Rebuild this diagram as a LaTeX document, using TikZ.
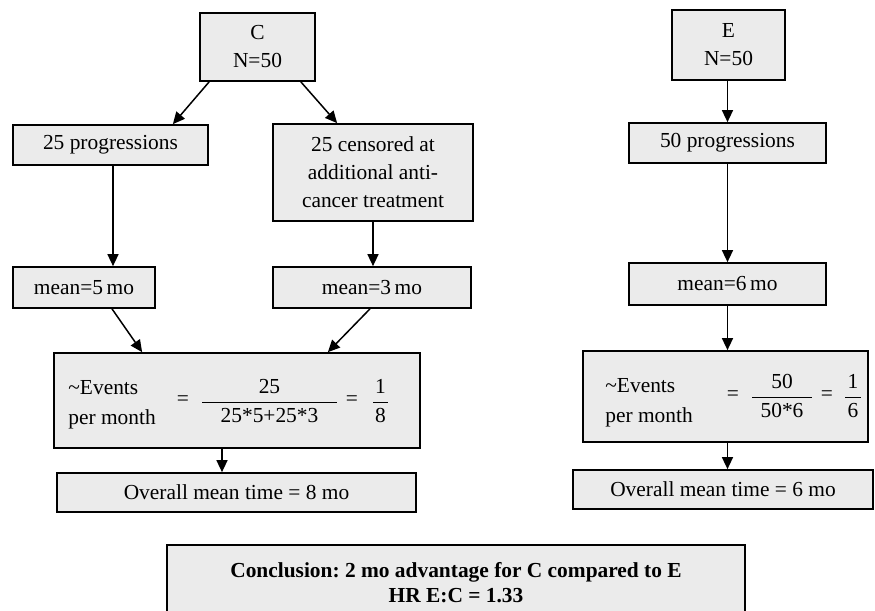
\documentclass[tikz,border=0pt]{standalone}
\usepackage{fontspec}
\setmainfont{Liberation Serif}
\usetikzlibrary{arrows.meta}
\frenchspacing

\begin{document}
\begin{tikzpicture}[x=0.5pt,y=-0.5pt,font=\fontsize{10.7}{14}\selectfont]
% Box style
\tikzset{
    box/.style={draw,line width=0.85pt,fill=black!8,inner sep=0pt,align=center},
    arr/.style={line width=0.75pt,-{Triangle[length=6pt,width=5.5pt]}},
    txt/.style={inner sep=0pt}
}
\useasboundingbox (0,0) rectangle (875,611);
\clip (0,0) rectangle (875,611);

% Arm C
\node[box,minimum width=57.5pt,minimum height=34pt] (C) at (257.5,47){C\\N=50};
\node[box,minimum width=97.5pt,minimum height=20pt] (progC) at (110.5,145){25 progressions};
\node[box,minimum width=100pt,minimum height=48.5pt] (cens) at (373,172.5){25 censored at\\additional anti-\\cancer treatment};
\node[box,minimum width=71pt,minimum height=20.5pt] (meanA) at (84,287.5){mean=5\,mo};
\node[box,minimum width=99pt,minimum height=20.5pt] (meanB) at (372,287.5){mean=3\,mo};
\node[box,minimum width=183pt,minimum height=47.5pt] (evC) at (237,400.5){};
\node[txt,anchor=west,align=left,font=\fontsize{10.7}{15}\selectfont] (evClab) at (68,405){\textasciitilde Events\\per month};
\node[txt] (eqC1) at (183,401){=};
\node[txt] (fracC) at (269.5,401){$\displaystyle\frac{\makebox[67.5pt]{25}}{\mbox{25*5+25*3}}$};
\node[txt] (eqC2) at (352,401){=};
\node[txt] (resC) at (380.5,401){$\displaystyle\frac{\makebox[7.5pt]{1}}{\mbox{8}}$};
\node[box,minimum width=179.5pt,minimum height=19.5pt] (allC) at (236.5,492.5){Overall mean time = 8 mo};

% Arm E
\node[box,minimum width=56.5pt,minimum height=35pt] (E) at (728.5,45){E\\N=50};
\node[box,minimum width=98.5pt,minimum height=20pt] (progE) at (727.5,143){50 progressions};
\node[box,minimum width=98.5pt,minimum height=21pt] (meanE) at (727.5,284){mean=6\,mo};
\node[box,minimum width=142.5pt,minimum height=45.5pt] (evE) at (725.5,396.5){};
\node[txt,anchor=west,align=left,font=\fontsize{10.7}{15}\selectfont] (evElab) at (605,403){\textasciitilde Events\\per month};
\node[txt] (eqE1) at (733,396){=};
\node[txt] (fracE) at (782,396){$\displaystyle\frac{\makebox[30pt]{50}}{\mbox{50*6}}$};
\node[txt] (eqE2) at (827,396){=};
\node[txt] (resE) at (853,396){$\displaystyle\frac{\makebox[8pt]{1}}{\mbox{6}}$};
\node[box,minimum width=150pt,minimum height=19.5pt] (allE) at (723,489.5){Overall mean time = 6 mo};

% Conclusion
\node[box,minimum width=289pt,minimum height=47.5pt] (concl) at (456,592.5){};
\node[txt,align=center,font=\fontsize{10.7}{12.5}\selectfont\bfseries] (conclTxt) at (456,582.5){Conclusion: 2 mo advantage for C compared to E\\HR E:C = 1.33};

% Connection
\draw[arr] ([xshift=5pt]C.south west) -- ([xshift=-18pt]progC.north east);
\draw[arr] ([xshift=-7.5pt]C.south east) -- ([xshift=32.5pt]cens.north west);
\draw[arr] ([xshift=1.25pt]progC.south) -- ([xshift=1.25pt]progC.south |- meanA.north);
\draw[arr] (cens.south) -- (cens.south |- meanB.north);
\draw[arr] ([xshift=14pt]meanA.south) -- ([xshift=44.5pt]evC.north west);
\draw[arr] ([xshift=-1pt]meanB.south) -- ([xshift=-46.5pt]evC.north east);
\draw[arr] ([xshift=-7.5pt]evC.south) -- ([xshift=-7.5pt]evC.south |- allC.north);

\draw[arr] (progE.north |- E.south) -- (progE.north);
\draw[arr] (progE.south) -- (meanE.north);
\draw[arr] (meanE.south) -- (meanE.south |- evE.north);
\draw[arr] (meanE.south |- evE.south) -- (meanE.south |- allE.north);

\end{tikzpicture}
\end{document}
